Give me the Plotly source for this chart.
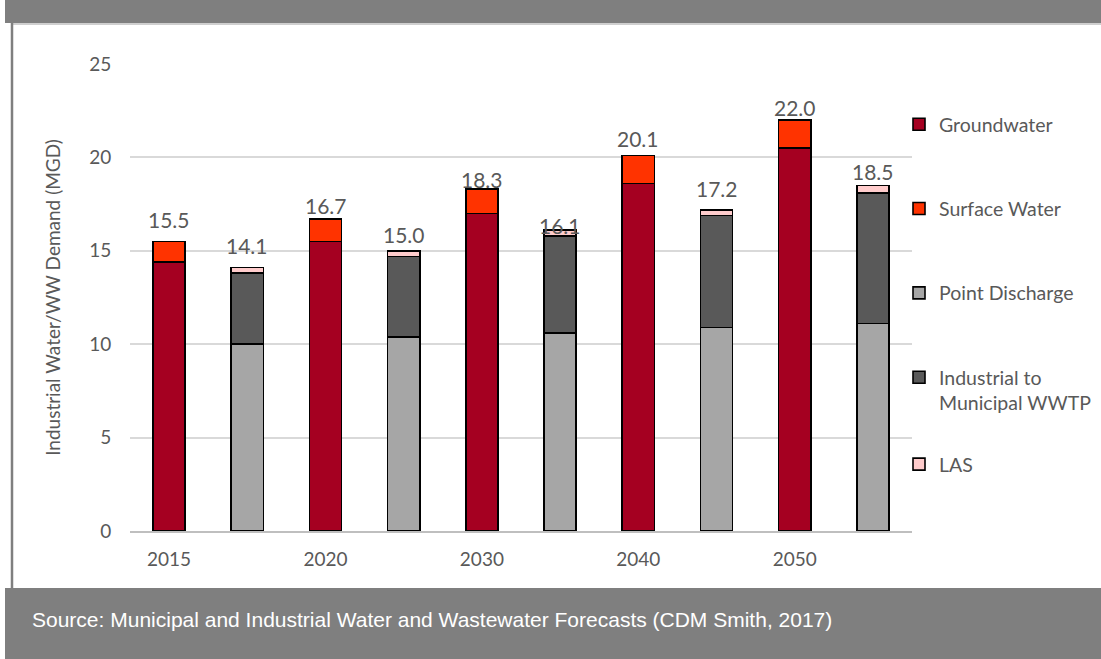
import plotly.graph_objects as go

# ---------------- data ----------------
years = ["2015", "2020", "2030", "2040", "2050"]
groundwater = [14.4, 15.5, 17.0, 18.6, 20.5]
surface_water = [1.1, 1.2, 1.3, 1.5, 1.5]
point_discharge = [10.0, 10.4, 10.6, 10.9, 11.1]
industrial_to_municipal = [3.8, 4.3, 5.2, 6.0, 7.0]
las = [0.3, 0.3, 0.3, 0.3, 0.4]
y_ticks = [0, 5, 10, 15, 20, 25]

water_cats = [y + " Water" for y in years]
ww_cats = [y + " Wastewater" for y in years]
categories = []
for w, v in zip(water_cats, ww_cats):
    categories += [w, v]

water_totals = [round(a + b, 1) for a, b in zip(groundwater, surface_water)]
ww_totals = [round(a + b + c, 1) for a, b, c in zip(point_discharge, industrial_to_municipal, las)]
totals = []
for a, b in zip(water_totals, ww_totals):
    totals += [a, b]

# ---------------- style ----------------
FONT = "Lato"
TXT = "#595959"
line = dict(color="#000000", width=1.6)
W, H = 1101, 659
# vertical offset (px) of each total label above its bar, in category order
label_shift = [22, 22, 14, 16, 10, 5, 17, 21, 13, 14]

fig = go.Figure()
fig.add_trace(go.Bar(name="Groundwater", x=water_cats, y=groundwater,
                     marker=dict(color="#A50021", line=line), legendgroup="g1"))
fig.add_trace(go.Bar(name="Surface Water", x=water_cats, y=surface_water,
                     marker=dict(color="#FF3300", line=line), legendgroup="g2"))
fig.add_trace(go.Bar(name="Point Discharge", x=ww_cats, y=point_discharge,
                     marker=dict(color="#A6A6A6", line=line), legendgroup="g3"))
fig.add_trace(go.Bar(name="Industrial to<br>Municipal WWTP", x=ww_cats, y=industrial_to_municipal,
                     marker=dict(color="#595959", line=line), legendgroup="g4"))
fig.add_trace(go.Bar(name="LAS", x=ww_cats, y=las,
                     marker=dict(color="#FFCCCC", line=line), legendgroup="g5", legend="legend2"))

# pixel -> paper helpers (plot area: x 130..912, y 64..531)
L, R, T, B = 130, 912, 64, 531
def px(x):
    return (x - L) / (R - L)
def py(y):
    return (B - y) / (B - T)

shapes = [
    dict(type="rect", xref="paper", yref="paper", x0=px(5), x1=px(1101), y0=py(23), y1=py(0),
         fillcolor="#7F7F7F", line=dict(width=0), layer="below"),
    dict(type="line", xref="paper", yref="paper", x0=px(12), x1=px(1101), y0=py(24), y1=py(24),
         line=dict(color="#BFBFBF", width=1.5), layer="below"),
    dict(type="rect", xref="paper", yref="paper", x0=px(5), x1=px(1101), y0=py(659), y1=py(588),
         fillcolor="#7F7F7F", line=dict(width=0), layer="below"),
    dict(type="line", xref="paper", yref="paper", x0=px(12), x1=px(12), y0=py(588), y1=py(23),
         line=dict(color="#7F7F7F", width=2.5), layer="below"),
]

annotations = [
    dict(x=c, y=t, text=f"{t:.1f}", xref="x", yref="y", showarrow=False,
         xanchor="center", yanchor="middle", yshift=s,
         font=dict(family=FONT, size=21, color=TXT))
    for c, t, s in zip(categories, totals, label_shift)
]
annotations.append(
    dict(text="Source: Municipal and Industrial Water and Wastewater Forecasts (CDM Smith, 2017)",
         xref="paper", yref="paper", x=px(30), y=py(619), xanchor="left", yanchor="middle",
         showarrow=False, font=dict(family="Liberation Sans", size=21, color="white"))
)

# leading em/en spaces lift the rotated title slightly, as in the original
y_title = "\u2003\u2003\u2002Industrial Water/WW Demand (MGD)"

fig.update_layout(
    width=W, height=H,
    margin=dict(l=L, r=W - R, t=T, b=H - B, autoexpand=False),
    paper_bgcolor="white", plot_bgcolor="white",
    barmode="stack", bargap=0.59,
    font=dict(family=FONT, size=19, color=TXT),
    shapes=shapes,
    annotations=annotations,
    showlegend=True,
    legend=dict(xref="container", yref="container", x=899 / W, y=1 - 105 / H,
                xanchor="left", yanchor="top",
                traceorder="grouped", tracegroupgap=56, valign="top",
                font=dict(family=FONT, size=19.5, color=TXT), bgcolor="rgba(0,0,0,0)"),
    legend2=dict(xref="container", yref="container", x=899 / W, y=1 - 445 / H,
                 xanchor="left", yanchor="top",
                 font=dict(family=FONT, size=19.5, color=TXT), bgcolor="rgba(0,0,0,0)"),
    xaxis=dict(type="category", categoryorder="array", categoryarray=categories,
               tickmode="array", tickvals=water_cats, ticktext=years,
               ticks="outside", ticklen=10, tickcolor="rgba(0,0,0,0)",
               tickfont=dict(family=FONT, size=19, color=TXT),
               showline=True, linecolor="#BFBFBF", linewidth=1.5, showgrid=False, zeroline=False),
    yaxis=dict(range=[0, 25], tickmode="array", tickvals=y_ticks,
               ticks="outside", ticklen=14, tickcolor="rgba(0,0,0,0)",
               tickfont=dict(family=FONT, size=19, color=TXT),
               showgrid=True, gridcolor="#D9D9D9", gridwidth=1.5, zeroline=False,
               title=dict(text=y_title, standoff=23,
                          font=dict(family=FONT, size=19, color=TXT))),
)

fig.write_html("out.html", config={"displayModeBar": False},
               post_script="document.body.style.margin='0';document.body.style.overflow='hidden';")
